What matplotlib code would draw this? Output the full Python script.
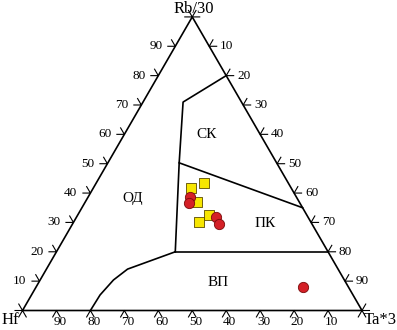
import numpy as np
import matplotlib
matplotlib.use("Agg")
import matplotlib.pyplot as plt

plt.rcParams['font.family'] = ['Liberation Serif', 'DejaVu Serif']

# tick values (percent)
ticks = [10, 20, 30, 40, 50, 60, 70, 80, 90]

# field boundaries as (Hf, Rb, Ta) percent
line_vp = [(80, 0, 20), (74.5, 5.3, 20.2), (68, 10.4, 21.6), (62, 14.1, 23.9), (45, 20, 35)]
line_vp_top = [(45, 20, 35), (0, 20, 80)]
line_mid = [(45, 20, 35), (28.7, 50.3, 21.0), (17.2, 71.0, 11.8), (0, 80, 20)]
line_pk = [(28.7, 50.3, 21.0), (0, 35, 65)]

# samples (Hf, Rb, Ta) percent
sq_hf = [24.7, 29.6, 30.0, 28.7, 32.9]
sq_rb = [43.5, 41.6, 37.1, 32.5, 30.0]
sq_ta = [31.8, 28.8, 32.9, 38.8, 37.1]

ci_hf = [31.3, 32.7, 27.1, 27.4, 13.5]
ci_rb = [38.8, 36.5, 31.9, 29.5, 7.9]
ci_ta = [29.9, 30.8, 41.0, 43.1, 78.6]

fields = {"ОД": (48.3, 38.3, 13.4), "СК": (15.8, 59.8, 24.4),
          "ПК": (13.7, 29.8, 56.5), "ВП": (37.6, 9.7, 52.7)}

S3 = np.sqrt(3) / 2


def tern(hf, rb, ta):
    hf, rb, ta = np.asarray(hf, float), np.asarray(rb, float), np.asarray(ta, float)
    tot = hf + rb + ta
    rb = rb / tot * 100
    ta = ta / tot * 100
    return ta + rb / 2, rb * S3


fig = plt.figure(figsize=(3.97, 3.30), dpi=100)
ax = fig.add_axes([0, 0, 1, 1])
ax.set_xlim(-22.5 / 3.395, (397 - 22.5) / 3.395)
ax.set_ylim((310.5 - 330) / 3.39, 310.5 / 3.39)
ax.axis('off')

lw = 1.2
# triangle
ax.plot([0, 100, 50, 0], [0, 0, 100 * S3, 0], color='k', lw=lw)

# ticks
tl = 2.2
for v in range(0, 101, 10):
    # left side (Rb)
    x, y = v / 2, v * S3
    ax.plot([x - tl, x, x - tl / 2], [y, y, y + tl * S3], color='k', lw=0.8)
    # right side (Ta), Rb = 100 - v
    x, y = 100 - v / 2, v * S3
    ax.plot([x + tl, x, x + tl / 2], [y, y, y + tl * S3], color='k', lw=0.8)
    # bottom
    x = v
    ax.plot([x - tl / 2, x, x + tl / 2], [-tl * S3, 0, -tl * S3], color='k', lw=0.8)

for v in ticks:
    ax.text(v / 2 - 3.8, v * S3, str(v), ha='right', va='center', fontsize=9.5)
    ax.text(100 - v / 2 + 3.2, v * S3, str(100 - v), ha='left', va='center', fontsize=9.5)
    ax.text(v + 1.0, -1.6, str(100 - v), ha='center', va='top', fontsize=9.5)

ax.text(50.5, 89.0, "Rb/30", ha='center', va='center', fontsize=12)
ax.text(-3.7, -2.8, "Hf", ha='center', va='center', fontsize=12)
ax.text(105.5, -2.8, "Ta*3", ha='center', va='center', fontsize=12)

for ln in [line_vp, line_vp_top, line_mid, line_pk]:
    hf, rb, ta = zip(*ln)
    x, y = tern(hf, rb, ta)
    ax.plot(x, y, color='k', lw=lw)

for name, (hf, rb, ta) in fields.items():
    x, y = tern(hf, rb, ta)
    ax.text(x, y, name, ha='center', va='center', fontsize=11)

x, y = tern(sq_hf, sq_rb, sq_ta)
ax.scatter(x, y, marker='s', s=45, c='#f7e600', edgecolors='#5a4a00', linewidths=0.6, zorder=3)
x, y = tern(ci_hf, ci_rb, ci_ta)
ax.scatter(x, y, marker='o', s=55, c='#d42027', edgecolors='#7a0a0a', linewidths=0.6, zorder=4)

fig.savefig("out.png", dpi=100)
